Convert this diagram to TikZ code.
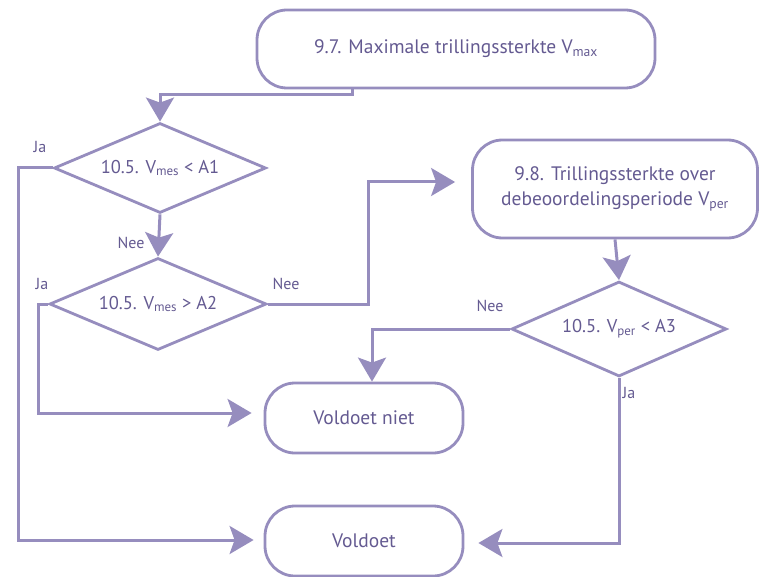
\documentclass[tikz,border=0pt]{standalone}
\usepackage{fontspec}
\setmainfont{PT Sans}
\usetikzlibrary{shapes.geometric,arrows.meta,calc}
\definecolor{lin}{RGB}{150,141,190}
\definecolor{txt}{RGB}{100,90,145}
\begin{document}
\begin{tikzpicture}[x=1pt,y=-1pt,
  term/.style={draw=lin,line width=2.8pt,rounded corners=30pt,text=txt,font=\fontsize{19.5}{25}\selectfont,align=center,inner sep=0pt},
  decision/.style={draw=lin,line width=2.8pt,diamond,inner sep=0pt},
  dtext/.style={text=txt,font=\fontsize{18.5}{22}\selectfont},
  lab/.style={text=txt,font=\fontsize{16}{18}\selectfont},
  arr/.style={draw=lin,line width=3pt,-{Stealth[length=24pt,width=28pt,inset=5pt]}},
  con/.style={draw=lin,line width=3pt}]
\useasboundingbox (0,0) rectangle (759,577);
% terminals
\node[term,minimum width=398pt,minimum height=78pt] (top) at (456,49) {9.7. Maximale trillingssterkte V\textsubscript{max}};
\node[term,minimum width=285pt,minimum height=98pt] (b98) at (615,189) {9.8. Trillingssterkte over\\debeoordelingsperiode V\textsubscript{per}};
\node[term,minimum width=198pt,minimum height=70pt] (vn) at (364,418) {Voldoet niet};
\node[term,minimum width=198pt,minimum height=70pt] (vo) at (364,541) {Voldoet};
% decisions
\node[decision,minimum width=212pt,minimum height=90pt] (d1) at (160,168) {};
\node[dtext] (t1) at (d1) {10.5. V\textsubscript{mes} < A1};
\node[decision,minimum width=217pt,minimum height=92pt] (d2) at (158,304) {};
\node[dtext] (t2) at (d2) {10.5. V\textsubscript{mes} > A2};
\node[decision,minimum width=215pt,minimum height=95pt] (d3) at (619,329) {};
\node[dtext] (t3) at (d3) {10.5. V\textsubscript{per} < A3};
% connectors
\coordinate (c0) at ($(top.south)+(-104,0)$);
\draw[arr] (c0) -- ++(0,5) -| (d1.north);
\draw[arr] (d1.west) -- (d1.west -| 18,0) |- ($(vo.west)+(-10,-1)$);
\draw[arr] (d1.south) -- (d2.north);
\draw[arr] (d2.west) -- (d2.west -| 38,0) |- ($(vn.west)+(-12,-5)$);
\draw[arr] (d2.east) -- (d2.east -| 368,0) |- ($(b98.west)+(-16,-7)$);
\draw[arr] (b98.south) -- (d3.north);
\draw[arr] (d3.west) -| ($(vn.north)+(8,0)$);
\draw[arr] (d3.south) |- ($(vo.east)+(14,2)$);
% labels
\node[lab] (l1) at (40,147) {Ja};
\node[lab] (l2) at (131,243) {Nee};
\node[lab] (l3) at (42,284) {Ja};
\node[lab] (l4) at (286,284) {Nee};
\node[lab] (l5) at (490,306) {Nee};
\node[lab] (l6) at (629,393) {Ja};
\end{tikzpicture}
\end{document}
